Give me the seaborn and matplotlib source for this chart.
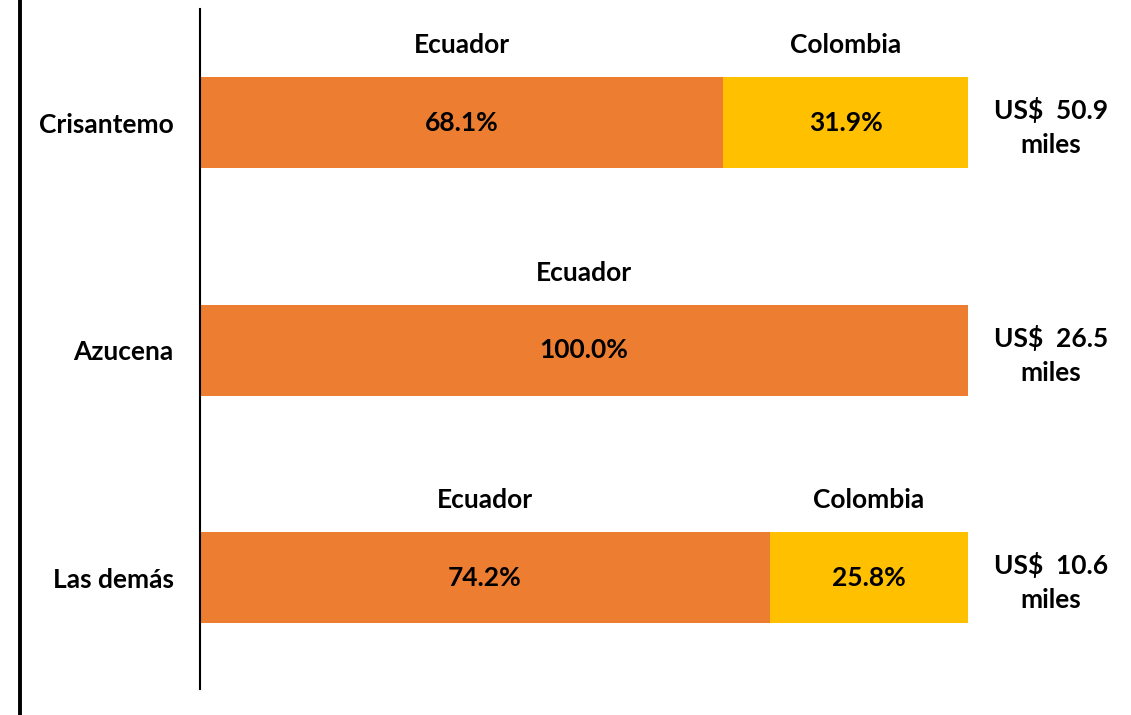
import numpy as np
import pandas as pd
import seaborn as sns
import matplotlib.pyplot as plt
from matplotlib.lines import Line2D

# data
productos = ["Crisantemo", "Azucena", "Las demás"]
ecuador = [68.1, 100.0, 74.2]
colombia = [31.9, 0.0, 25.8]
montos = ["US$  50.9\nmiles", "US$  26.5\nmiles", "US$  10.6\nmiles"]

naranja = "#ED7D31"
amarillo = "#FFC000"

sns.set_style("white")
plt.rcParams["font.family"] = ["Lato", "DejaVu Sans"]
plt.rcParams["font.weight"] = "bold"
plt.rcParams["text.color"] = "black"
plt.rcParams["ytick.color"] = "black"

df = pd.DataFrame({"producto": productos, "Ecuador": ecuador, "Colombia": colombia})
df["total"] = df["Ecuador"] + df["Colombia"]

fig = plt.figure(figsize=(11.31, 7.15), dpi=100)
ax = fig.add_axes([200 / 1131, 1 - 689 / 715, 768 / 1131, 680 / 715])

# stacked bars: full total in yellow, Ecuador share over it in orange
sns.barplot(data=df, x="total", y="producto", orient="h", color=amarillo,
            saturation=1, width=0.4, linewidth=0, ax=ax)
sns.barplot(data=df, x="Ecuador", y="producto", orient="h", color=naranja,
            saturation=1, width=0.4, linewidth=0, ax=ax)

ax.set_xlim(0, 100)
ax.set_ylim(2.49, -0.5)
ax.set_xlabel("")
ax.set_ylabel("")
ax.set_xticks([])
for s in ["top", "right", "bottom"]:
    ax.spines[s].set_visible(False)
ax.spines["left"].set_color("black")
ax.spines["left"].set_linewidth(1.5)

fs = 19
ax.tick_params(axis="y", length=0, pad=19, labelsize=fs, labelcolor="black")
for t in ax.get_yticklabels():
    t.set_fontweight("bold")

for i, row in df.iterrows():
    e, c = row["Ecuador"], row["Colombia"]
    ax.text(e / 2, i, f"{e:.1f}%", ha="center", va="center", fontsize=fs, fontweight="bold")
    ax.text(e / 2, i - 0.34, "Ecuador", ha="center", va="center", fontsize=fs, fontweight="bold")
    if c > 0:
        ax.text(e + c / 2, i, f"{c:.1f}%", ha="center", va="center", fontsize=fs, fontweight="bold")
        ax.text(e + c / 2, i - 0.34, "Colombia", ha="center", va="center", fontsize=fs, fontweight="bold")
    ax.text(110.8, i + 0.02, montos[i], ha="center", va="center", fontsize=fs,
            fontweight="bold", linespacing=1.5, clip_on=False)

# thick frame line at the far left
fig.add_artist(Line2D([19.5 / 1131, 19.5 / 1131], [0, 1], color="black", linewidth=2.8,
                      transform=fig.transFigure))

fig.savefig("out.png", dpi=100)
